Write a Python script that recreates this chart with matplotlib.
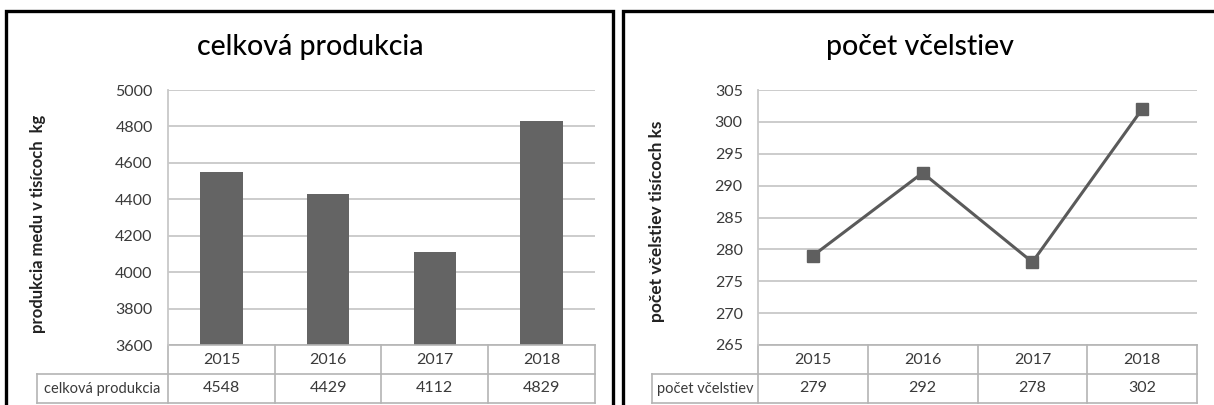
import numpy as np
import matplotlib.pyplot as plt
from matplotlib.patches import Rectangle

plt.rcParams['font.family'] = ['Lato', 'DejaVu Sans']

# data
years = ['2015', '2016', '2017', '2018']
produkcia = [4548, 4429, 4112, 4829]
vcelstva = [279, 292, 278, 302]

W, H = 1214, 405
fig = plt.figure(figsize=(W / 100, H / 100), dpi=100)
fig.patch.set_facecolor('white')

def fx(px):
    return px / W

def fy(py):
    return 1 - py / H

# panel borders (black frames)
for x0, x1 in [(6, 613), (623, 1230)]:
    fig.patches.append(Rectangle((fx(x0), fy(420)), fx(x1 - x0), (420 - 11) / H,
                                 transform=fig.transFigure, fill=False,
                                 edgecolor='black', linewidth=2.4))

grid_c = '#c8c8c8'
tab_c = '#b4b4b4'
txt_c = '#3a3a3a'

def style_ax(ax):
    for s in ['top', 'right', 'bottom']:
        ax.spines[s].set_visible(False)
    ax.spines['left'].set_color(grid_c)
    ax.spines['left'].set_linewidth(1.3)
    ax.yaxis.grid(True, color=grid_c, linewidth=1.3)
    ax.set_axisbelow(True)
    ax.tick_params(axis='y', length=0, labelsize=11.5, labelcolor=txt_c, pad=11)
    ax.tick_params(axis='x', length=0, labelbottom=False)
    ax.set_xlim(-0.5, len(years) - 0.5)

def draw_table(ax, head_x, label, values):
    rh = 29 / 255
    kw = dict(transform=ax.transAxes, color=tab_c, linewidth=1.2, clip_on=False)
    # horizontal lines
    ax.plot([0, 1], [0, 0], **kw)
    ax.plot([head_x, 1], [-rh, -rh], **kw)
    ax.plot([head_x, 1], [-2 * rh, -2 * rh], **kw)
    # vertical lines
    for i in range(len(years) + 1):
        ax.plot([i / len(years)] * 2, [0, -2 * rh], **kw)
    ax.plot([head_x, head_x], [-rh, -2 * rh], **kw)
    for i, (y, v) in enumerate(zip(years, values)):
        xc = (i + 0.5) / len(years)
        ax.text(xc, -rh / 2, y, transform=ax.transAxes, ha='center', va='center',
                fontsize=11.5, color=txt_c)
        ax.text(xc, -1.5 * rh, str(v), transform=ax.transAxes, ha='center', va='center',
                fontsize=11.5, color=txt_c)
    ax.text(head_x / 2, -1.5 * rh, label, transform=ax.transAxes, ha='center', va='center',
            fontsize=10.5, color=txt_c)

# left chart: bars
ax1 = fig.add_axes([fx(168), fy(345), fx(595 - 168), (345 - 90) / H])
x = np.arange(len(years))
ax1.bar(x, produkcia, width=0.4, color='#646464')
ax1.set_ylim(3600, 5000)
ax1.set_yticks(np.arange(3600, 5001, 200))
style_ax(ax1)
draw_table(ax1, (37 - 168) / 427, 'celková produkcia', produkcia)
fig.text(fx(310), fy(47), 'celková produkcia', ha='center', va='center', fontsize=20.5,
         fontweight='medium')
fig.text(fx(38), fy(224), 'produkcia medu v tisícoch  kg', rotation=90, ha='center',
         va='center', fontsize=12, fontweight='bold', color='#222222')

# right chart: line
ax2 = fig.add_axes([fx(758), fy(345), fx(1197 - 758), (345 - 90) / H])
ax2.plot(x, vcelstva, color='#5a5a5a', linewidth=2.2, marker='s', markersize=8.5,
         markerfacecolor='#5f5f5f', markeredgecolor='#5f5f5f')
ax2.set_ylim(265, 305)
ax2.set_yticks(np.arange(265, 306, 5))
style_ax(ax2)
draw_table(ax2, (652 - 758) / 439, 'počet včelstiev', vcelstva)
fig.text(fx(920), fy(47), 'počet včelstiev', ha='center', va='center', fontsize=20.5,
         fontweight='medium')
fig.text(fx(657), fy(221), 'počet včelstiev tisícoch ks', rotation=90, ha='center',
         va='center', fontsize=12.5, fontweight='bold', color='#222222')

fig.savefig('out.png', dpi=100)
